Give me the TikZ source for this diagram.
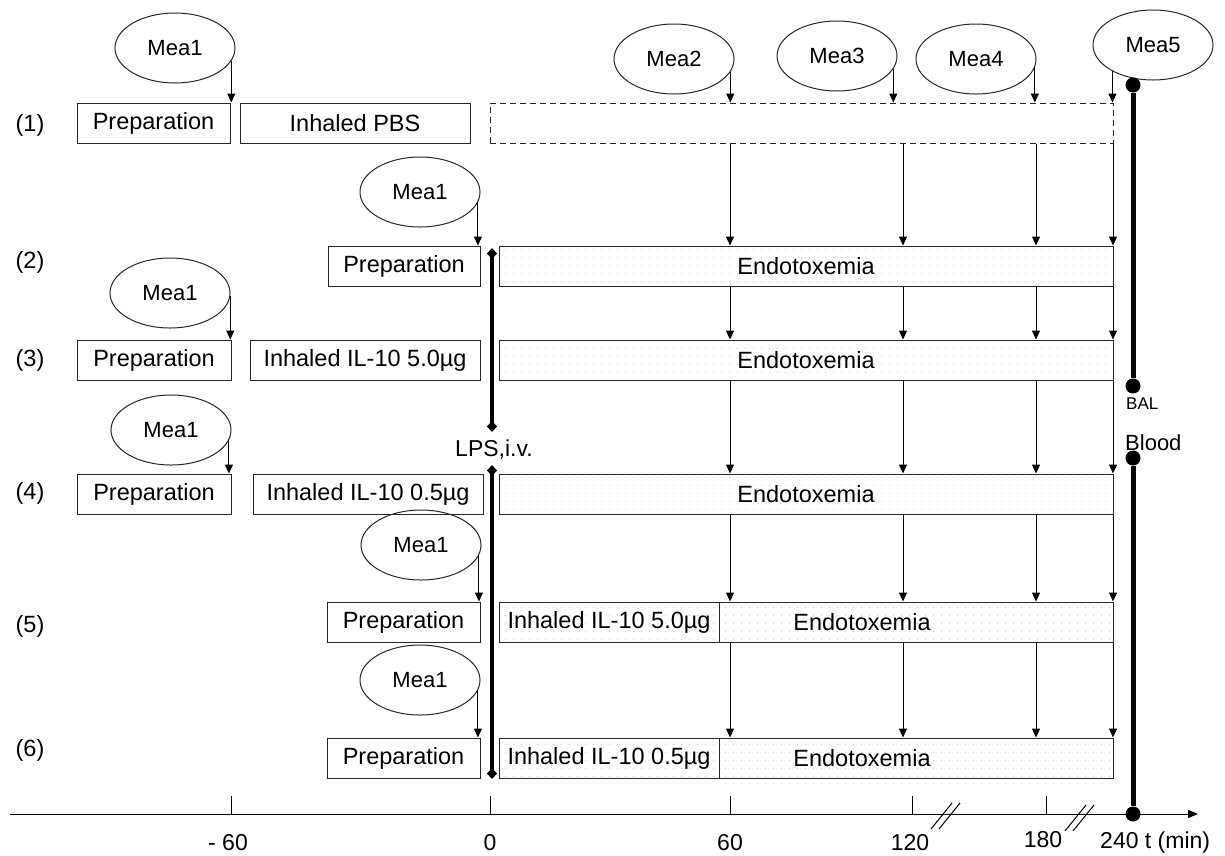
\documentclass[tikz,border=0pt]{standalone}
\usepackage{fontspec}
\setmainfont{Liberation Sans}
\usetikzlibrary{arrows.meta, shapes.geometric, patterns.meta, positioning}

\definecolor{dotcol}{RGB}{165,218,226}
\tikzdeclarepattern{name=endodots, type=uncolored,
  bounding box={(0pt,0pt) and (7.6pt,7.6pt)}, tile size={(7.6pt,7.6pt)},
  code={\fill (3.8pt,3.8pt) circle (0.7pt);}}

\newcommand{\txtsize}{\fontsize{23.5}{28}\selectfont}

\tikzset{
  stage/.style={draw=black!85, line width=1pt, minimum height=40pt, inner sep=0pt, font=\txtsize},
  endo/.style={stage, pattern=endodots, pattern color=dotcol},
  mea/.style={ellipse, draw=black!85, line width=1pt, minimum width=120pt, minimum height=70pt, inner sep=0pt, font=\fontsize{22}{26}\selectfont},
  arr/.style={line width=1pt, -{Triangle[length=9pt,width=8pt]}},
  dot/.style={circle, fill, inner sep=0pt, minimum size=15pt},
  sampline/.style={line width=5pt},
  lpsline/.style={line width=4.5pt, {Diamond[length=11pt,width=10pt]}-{Diamond[length=11pt,width=10pt]}},
  rowlab/.style={font=\txtsize},
  ticklab/.style={font=\fontsize{23}{27}\selectfont}
}

\begin{document}
\begin{tikzpicture}[x=1pt, y=-1pt]
\useasboundingbox (0,0) rectangle (1225,855);

% row labels
\node[rowlab] (r1) at (30,125) {(1)};
\node[rowlab] (r2) at (30,262) {(2)};
\node[rowlab] (r3) at (30,360) {(3)};
\node[rowlab] (r4) at (30,493) {(4)};
\node[rowlab] (r5) at (30,626) {(5)};
\node[rowlab] (r6) at (30,750) {(6)};

% row 1
\node[stage, minimum width=153pt] (p1) at (153.5,123) {Preparation};
\node[stage, minimum width=230pt] (pbs) at (355,123) {Inhaled PBS};
\node[stage, dash pattern=on 6pt off 4pt, minimum width=623pt] (dash) at (801.5,123) {};

% row 2
\node[stage, minimum width=152pt] (p2) at (404,266) {Preparation};
\node[endo, minimum width=614pt] (e2) at (806,266) {Endotoxemia};

% row 3
\node[stage, minimum width=154pt] (p3) at (154,360) {Preparation};
\node[stage, minimum width=230pt] (il3) at (365,360) {Inhaled IL-10 5.0µg};
\node[endo, minimum width=614pt] (e3) at (806,360) {Endotoxemia};

% row 4
\node[stage, minimum width=154pt] (p4) at (154,494) {Preparation};
\node[stage, minimum width=230pt] (il4) at (368,494) {Inhaled IL-10 0.5µg};
\node[endo, minimum width=614pt] (e4) at (806,494) {Endotoxemia};

% row 5
\node[stage, minimum width=153pt] (p5) at (403.5,622) {Preparation};
\node[endo, minimum width=220pt] (il5) at (609,622) {Inhaled IL-10 5.0µg};
\node[endo, minimum width=394pt] (e5) at (916,622) {};
\node[font=\txtsize] (t5) at (862,622) {Endotoxemia};

% row 6
\node[stage, minimum width=153pt] (p6) at (403.5,758) {Preparation};
\node[endo, minimum width=220pt] (il6) at (609,758) {Inhaled IL-10 0.5µg};
\node[endo, minimum width=394pt] (e6) at (916,758) {};
\node[font=\txtsize] (t6) at (862,758) {Endotoxemia};

% measurements
\node[mea] (m1a) at (175,48) {Mea1};
\node[mea] (m1b) at (420,192) {Mea1};
\node[mea] (m1c) at (170,293) {Mea1};
\node[mea] (m1d) at (171,430) {Mea1};
\node[mea] (m1e) at (421,545) {Mea1};
\node[mea] (m1f) at (420,680) {Mea1};
\node[mea] (m2) at (674,59) {Mea2};
\node[mea] (m3) at (837,56) {Mea3};
\node[mea] (m4) at (976,59) {Mea4};
\node[mea] (m5) at (1153,45) {Mea5};

\draw[arr] (m1a.-13) -- (m1a.-13 |- p1.north);
\draw[arr] (m1b.-10) -- (m1b.-10 |- p2.north);
\draw[arr] (m1c.-3) -- (m1c.-3 |- p3.north);
\draw[arr] (m1d.-10) -- (m1d.-10 |- p4.north);
\draw[arr] (m1e.-10) -- (m1e.-10 |- p5.north);
\draw[arr] (m1f.-10) -- (m1f.-10 |- p6.north);
\draw[arr] (m2.-13) -- (m2.-13 |- dash.north);
\draw[arr] (m3.-13) -- (m3.-13 |- dash.north);
\draw[arr] (m4.-8) -- (m4.-8 |- dash.north);
\draw[arr] (m5.213) -- (m5.213 |- dash.north);

% arrows between rows
\coordinate (c1) at (730,0);
\coordinate (c2) at (903,0);
\coordinate (c3) at (1036,0);
\coordinate (c4) at (1113,0);
\foreach \a/\b in {dash/e2, e2/e3, e3/e4, e4/e5, e5/e6}
  \foreach \c in {c1,c2,c3,c4}
    \draw[arr] (\a.south -| \c) -- (\b.north -| \c);

% LPS injection
\coordinate (lpsA) at (492,248);
\coordinate (lpsB) at (492,432);
\coordinate (lpsC) at (492,465);
\coordinate (lpsD) at (492,779);
\node[font=\fontsize{23}{27}\selectfont] (lps) at (494,450) {LPS,i.v.};
\draw[lpsline] (lpsA) -- (lpsB);
\draw[lpsline] (lpsC) -- (lpsD);

% time axis
\coordinate (ax0) at (10,814);
\coordinate (ax1) at (1198,814);
\draw[line width=1pt, -{Triangle[length=10pt,width=8pt]}] (ax0) -- (ax1);
\foreach \x in {231,490,730,912,1046}
  \draw[line width=1pt] (\x,796) -- (\x,814);
\draw[line width=1pt] (931,829) -- (952,803) (939,829) -- (960,803);
\draw[line width=1pt] (1065,831) -- (1086,805) (1073,831) -- (1094,805);
\node[ticklab] (tm60) at (228,843) {- 60};
\node[ticklab] (t0) at (490,843) {0};
\node[ticklab] (t60) at (730,843) {60};
\node[ticklab] (t120) at (910,843) {120};
\node[ticklab] (t180) at (1043,840) {180};
\node[ticklab, anchor=west, inner sep=0pt] (t240) at (1100,843) {240 t (min)};

% sampling BAL / blood
\node[dot] (d1) at (1133,85) {};
\node[dot] (d2) at (1133,386) {};
\node[dot] (d3) at (1133,458) {};
\node[dot] (d4) at (1133,814) {};
\draw[sampline] (d1) -- (d2);
\draw[sampline] (d3) -- (d4);
\node[font=\fontsize{17}{20}\selectfont, anchor=west, inner sep=0pt] (bal) at (1126,404) {BAL};
\node[font=\fontsize{22}{26}\selectfont, anchor=west, inner sep=0pt] (blood) at (1125,443) {Blood};
\end{tikzpicture}
\end{document}
